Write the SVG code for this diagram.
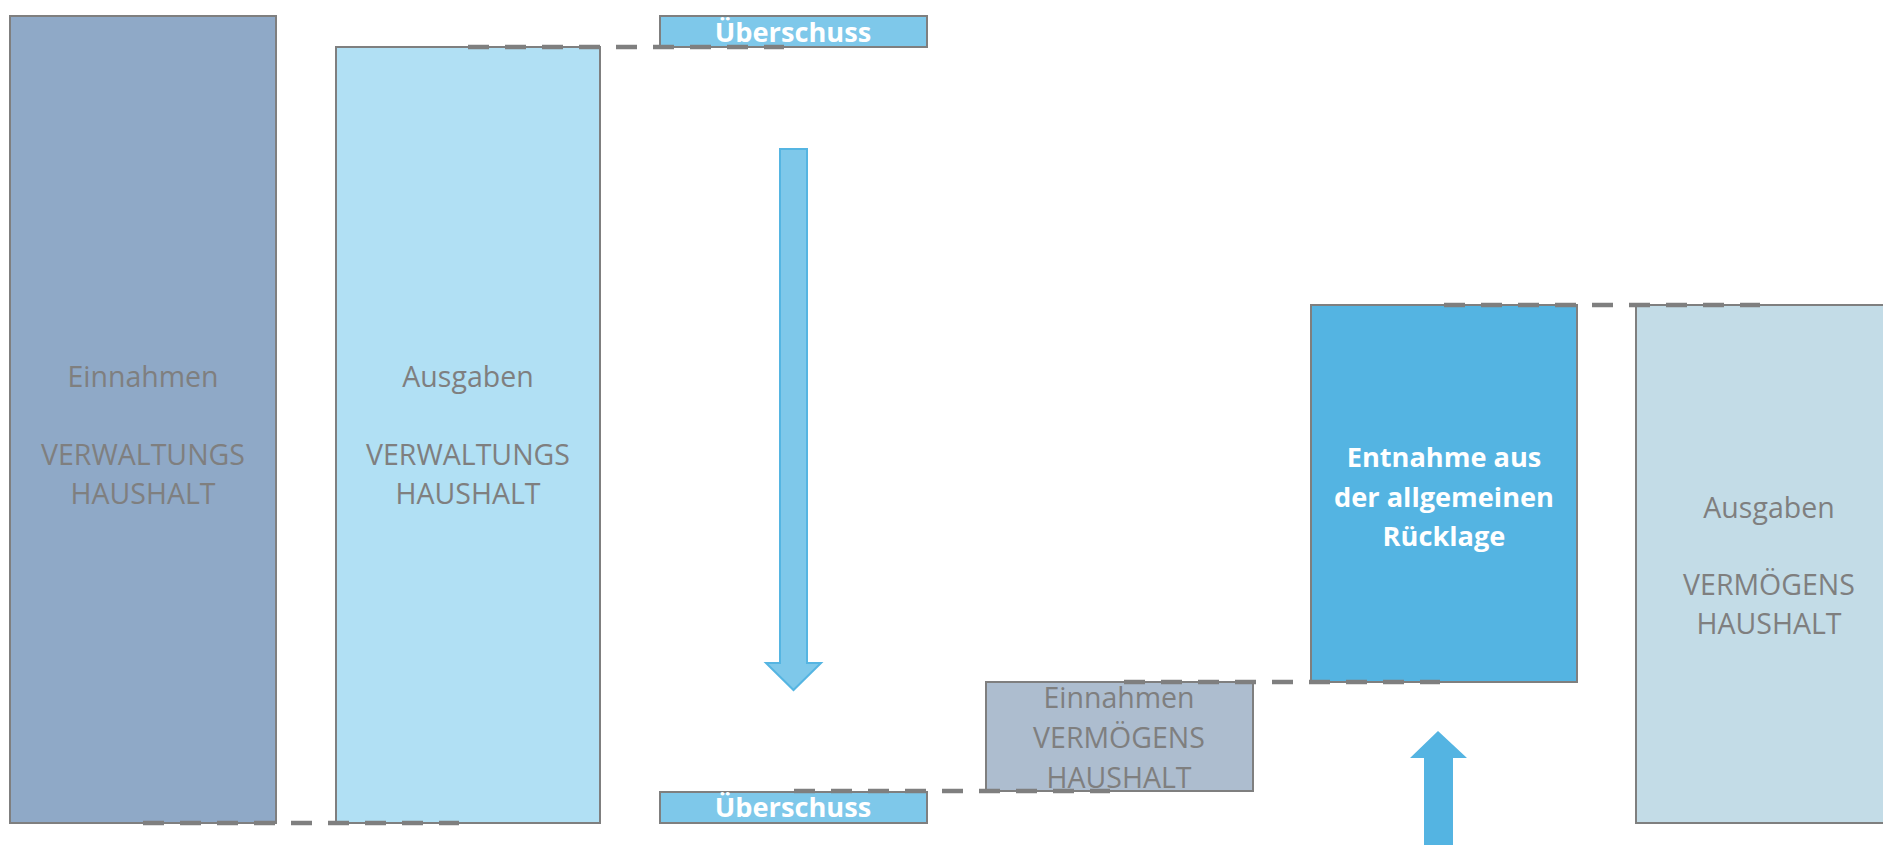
<svg xmlns="http://www.w3.org/2000/svg" width="1883" height="845" viewBox="0 0 1883 845">
  <style>
    .box { stroke: #7F7F7F; stroke-width: 2; }
    .lbl { font-family: "Open Sans", "Liberation Sans", sans-serif; font-size: 28.5px; fill: #7F7F7F; text-anchor: middle; }
    .bold { font-family: "Open Sans", "Liberation Sans", sans-serif; font-size: 27.2px; font-weight: bold; fill: #FFFFFF; text-anchor: middle; }
    .dash { stroke: #7F7F7F; stroke-width: 4.5; stroke-dasharray: 21 16; fill: none; }
  </style>
  <rect width="1883" height="845" fill="#FFFFFF"/>

  <g id="einnahmen-vwh">
    <rect class="box" x="10" y="16" width="266" height="807" fill="#8FA9C7"/>
    <text class="lbl" x="143" y="387">Einnahmen</text>
    <text class="lbl" x="143" y="465">VERWALTUNGS</text>
    <text class="lbl" x="143" y="504">HAUSHALT</text>
  </g>

  <g id="ausgaben-vwh">
    <rect class="box" x="336" y="47" width="264" height="776" fill="#B1E0F4"/>
    <text class="lbl" x="468" y="387">Ausgaben</text>
    <text class="lbl" x="468" y="465">VERWALTUNGS</text>
    <text class="lbl" x="468" y="504">HAUSHALT</text>
  </g>

  <g id="ueberschuss-top">
    <rect class="box" x="660" y="16" width="267" height="31" fill="#7EC8EA"/>
    <text class="bold" x="793" y="42">Überschuss</text>
  </g>

  <g id="ueberschuss-bottom">
    <rect class="box" x="660" y="792" width="267" height="31" fill="#7EC8EA"/>
    <text class="bold" x="793" y="817">Überschuss</text>
  </g>

  <g id="einnahmen-vmh">
    <rect class="box" x="986" y="682" width="267" height="109" fill="#ADBDCF"/>
    <text class="lbl" x="1119" y="708">Einnahmen</text>
    <text class="lbl" x="1119" y="748">VERMÖGENS</text>
    <text class="lbl" x="1119" y="788">HAUSHALT</text>
  </g>

  <g id="entnahme">
    <rect class="box" x="1311" y="305" width="266" height="377" fill="#54B4E2"/>
    <text class="bold" x="1444" y="467">Entnahme aus</text>
    <text class="bold" x="1444" y="507">der allgemeinen</text>
    <text class="bold" x="1444" y="546">Rücklage</text>
  </g>

  <g id="ausgaben-vmh">
    <rect class="box" x="1636" y="305" width="266" height="518" fill="#C3DCE7"/>
    <text class="lbl" x="1769" y="518">Ausgaben</text>
    <text class="lbl" x="1769" y="595">VERMÖGENS</text>
    <text class="lbl" x="1769" y="634">HAUSHALT</text>
  </g>

  <g id="arrow-down">
    <polygon points="780,149 807,149 807,663 821,663 793.5,690 766,663 780,663" fill="#7EC8EA" stroke="#55B5E2" stroke-width="2"/>
  </g>

  <g id="arrow-up">
    <polygon points="1438,731 1467,758 1453,758 1453,846 1424,846 1424,758 1410,758" fill="#54B4E2"/>
  </g>

  <g id="connectors">
    <line class="dash" x1="468" y1="47" x2="784" y2="47"/>
    <line class="dash" x1="143" y1="823" x2="459" y2="823"/>
    <line class="dash" x1="794" y1="791" x2="1110" y2="791"/>
    <line class="dash" x1="1124" y1="682" x2="1440" y2="682"/>
    <line class="dash" x1="1444" y1="305" x2="1760" y2="305"/>
  </g>
</svg>
